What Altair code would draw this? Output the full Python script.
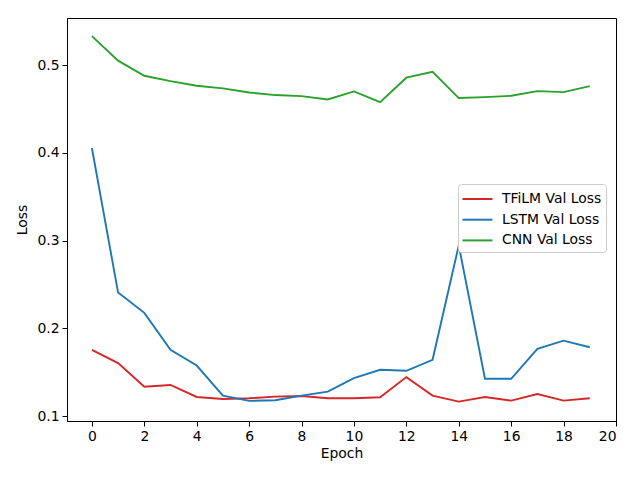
import altair as alt
import pandas as pd

epochs = list(range(20))
tfilm = [0.1755, 0.1604, 0.1336, 0.1355, 0.1219, 0.1196, 0.1204, 0.1223, 0.1230, 0.1204,
         0.1204, 0.1215, 0.1445, 0.1234, 0.1166, 0.1219, 0.1177, 0.1253, 0.1177, 0.1204]
lstm = [0.4055, 0.2408, 0.2177, 0.1755, 0.1577, 0.1234, 0.1174, 0.1181, 0.1234, 0.1279,
        0.1434, 0.1528, 0.1517, 0.1642, 0.2946, 0.1426, 0.1426, 0.1766, 0.1860, 0.1785]
cnn = [0.5330, 0.5050, 0.4878, 0.4817, 0.4764, 0.4734, 0.4688, 0.4658, 0.4646, 0.4608,
       0.4700, 0.4578, 0.4856, 0.4924, 0.4624, 0.4635, 0.4650, 0.4703, 0.4692, 0.4760]
series_names = ["TFiLM Val Loss", "LSTM Val Loss", "CNN Val Loss"]
series_colors = ["#d62728", "#1f77b4", "#2ca02c"]
x_ticks = list(range(0, 21, 2))
y_ticks = [0.1, 0.2, 0.3, 0.4, 0.5]

rows = []
for name, vals in zip(series_names, [tfilm, lstm, cnn]):
    for e, v in zip(epochs, vals):
        rows.append({"Epoch": e, "Loss": v, "Series": name})
df = pd.DataFrame(rows)

FONT = "DejaVu Sans"
FS = 13.9

chart = alt.Chart(df).mark_line(strokeWidth=1.9).encode(
    x=alt.X("Epoch:Q", scale=alt.Scale(domain=[-0.95, 20], nice=False, zero=False),
            axis=alt.Axis(values=x_ticks, title="Epoch", format="d")),
    y=alt.Y("Loss:Q", scale=alt.Scale(domain=[0.0945, 0.5536], nice=False, zero=False),
            axis=alt.Axis(values=y_ticks, title="Loss", format=".1f")),
    color=alt.Color("Series:N", sort=series_names,
                    scale=alt.Scale(domain=series_names, range=series_colors),
                    legend=alt.Legend(title=None, orient="none", legendX=391, legendY=166)),
).properties(
    width=549, height=403,
    padding={"left": 59, "top": 10, "right": 16, "bottom": 49},
    autosize=alt.AutoSizeParams(type="none"),
).configure_view(
    stroke="black", strokeWidth=1
).configure_axis(
    grid=False, domainColor="black", tickColor="black", labelColor="black",
    titleColor="black", labelFont=FONT, titleFont=FONT, labelFontSize=FS,
    titleFontSize=FS, titleFontWeight="normal", tickSize=5, labelPadding=3,
).configure_axisX(titlePadding=4).configure_axisY(titlePadding=7).configure_legend(
    labelFont=FONT, labelFontSize=FS, labelColor="black",
    symbolType="M-1.05,0L1.95,0", symbolStrokeWidth=2, symbolSize=400,
    strokeColor="#cccccc", fillColor="white", padding=4, cornerRadius=3,
    rowPadding=2.7, labelOffset=18,
)

chart.save("out.html", embed_options={"renderer": "svg", "actions": False})
